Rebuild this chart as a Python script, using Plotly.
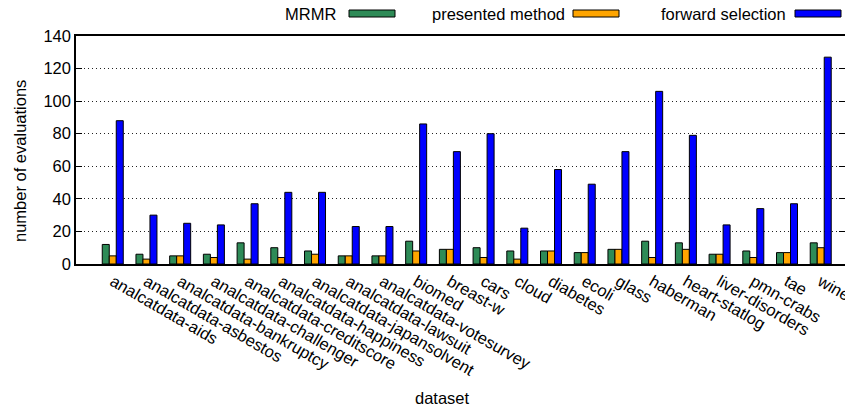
import plotly.graph_objects as go

datasets = ["analcatdata-aids", "analcatdata-asbestos", "analcatdata-bankruptcy",
            "analcatdata-challenger", "analcatdata-creditscore", "analcatdata-happiness",
            "analcatdata-japansolvent", "analcatdata-lawsuit", "analcatdata-votesurvey",
            "biomed", "breast-w", "cars", "cloud", "diabetes", "ecoli", "glass",
            "haberman", "heart-statlog", "liver-disorders", "pmn-crabs", "tae", "wine"]
mrmr = [12, 6, 5, 6, 13, 10, 8, 5, 5, 14, 9, 10, 8, 8, 7, 9, 14, 13, 6, 8, 7, 13]
presented = [5, 3, 5, 4, 3, 4, 6, 5, 5, 8, 9, 4, 3, 8, 7, 9, 4, 9, 6, 4, 7, 10]
forward = [88, 30, 25, 24, 37, 44, 44, 23, 23, 86, 69, 80, 22, 58, 49, 69, 106, 79, 24, 34, 37, 127]

series_names = ["MRMR", "presented method", "forward selection"]
series_colors = ["#2E8B57", "#FFA500", "#0000FF"]
series_values = [mrmr, presented, forward]

W, H = 845, 414
ML, MR, MT, MB = 76, 0, 36, 150
FONT = "Liberation Sans, Arial, sans-serif"

fig = go.Figure()
xs = list(range(len(datasets)))
for name, col, vals in zip(series_names, series_colors, series_values):
    fig.add_trace(go.Bar(x=xs, y=vals, name=name, marker_color=col,
                         marker_line_color="black", marker_line_width=1,
                         showlegend=False))

def px2paper(px):
    return (px - ML) / (W - ML - MR)

def py2paper(py):
    return (H - MB - py) / (H - MB - MT)

# gnuplot-style key: text then sample box
box_left = [349, 573, 795]
text_gap = [11, 6, 7]
box_w = 46
box_y0, box_y1 = 10, 17
for name, col, bl, gap in zip(series_names, series_colors, box_left, text_gap):
    fig.add_shape(type="rect", xref="paper", yref="paper",
                  x0=px2paper(bl), x1=px2paper(bl + box_w),
                  y0=py2paper(box_y1), y1=py2paper(box_y0),
                  fillcolor=col, line=dict(color="black", width=1))
    fig.add_annotation(text=name, xref="paper", yref="paper",
                       x=px2paper(bl - gap), y=py2paper(13.5),
                       xanchor="right", yanchor="middle", showarrow=False,
                       font=dict(family=FONT, size=16.5, color="black"))

# axis titles as annotations (fixed positions like the gnuplot layout)
fig.add_annotation(text="dataset", xref="paper", yref="paper",
                   x=px2paper(442), y=py2paper(398), xanchor="center", yanchor="middle",
                   showarrow=False, font=dict(family=FONT, size=16.5, color="black"))
fig.add_annotation(text="number of evaluations", xref="paper", yref="paper",
                   x=px2paper(20), y=py2paper(161), xanchor="center", yanchor="middle",
                   textangle=-90, showarrow=False,
                   font=dict(family=FONT, size=16.5, color="black"))

fig.update_layout(
    width=W, height=H,
    margin=dict(l=ML, r=MR, t=MT, b=MB),
    plot_bgcolor="white", paper_bgcolor="white",
    barmode="group", bargap=0.377, bargroupgap=0,
    font=dict(family=FONT, size=16, color="black"),
)
fig.update_xaxes(
    range=[-1.09, 21.72], tickmode="array", tickvals=xs, ticktext=datasets,
    tickangle=30, ticks="", showgrid=False, showline=True, linecolor="black",
    linewidth=1.5, mirror=True, zeroline=False, automargin=False,
    ticklabeloverflow="allow",
    tickfont=dict(family=FONT, size=16.5),
)
fig.update_yaxes(
    range=[0, 140], tickmode="array", tickvals=[0, 20, 40, 60, 80, 100, 120, 140],
    ticks="inside", ticklen=6, tickcolor="black", mirror="ticks",
    showline=True, linecolor="black", linewidth=1.5,
    showgrid=True, gridcolor="#222222", griddash="1px,3px", gridwidth=1.2,
    zeroline=False, automargin=False, tickfont=dict(family=FONT, size=16.5),
)

fig.write_html("out.html", config={"displayModeBar": False},
               post_script="document.body.style.margin='0';document.body.style.overflow='hidden';")
